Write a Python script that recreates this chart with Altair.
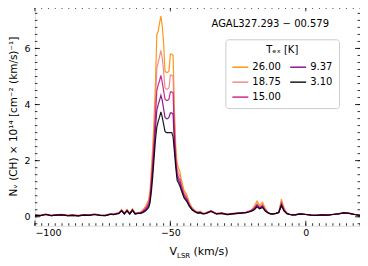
import altair as alt
import pandas as pd
import numpy as np

# ---------------- data ----------------
velocity = [
    -100, -98, -96, -94, -92, -90, -88, -86, -84, -82, -80, -78, -76, -74, -72,
    -71, -70, -69, -68, -67, -66, -65, -64, -63, -62,
    -61, -60, -59,
    -58, -57.5, -57, -56.5, -56, -55.5, -55, -54.5, -54, -53.5, -53, -52.5, -52,
    -51.5, -51, -50.5, -50, -49.5, -49, -48.5, -48, -47.5, -47, -46.5, -46,
    -45, -44, -43, -42, -41, -40, -39, -38,
    -37, -35, -33, -31, -29, -27, -25, -23,
    -22, -21, -20, -19, -18, -17, -16, -15, -14, -13, -12, -11, -10, -9, -8, -7, -6, -5,
    -4, -2, 0, 2, 4, 6, 8, 10, 12, 14, 16, 18, 20,
]

n_26_00 = [
    0.07, 0.05, 0.10, 0.05, 0.08, 0.09, 0.05, 0.07, 0.05, 0.08, 0.07, 0.10, 0.07, 0.06, 0.11,
    0.10, 0.12, 0.15, 0.26, 0.13, 0.26, 0.13, 0.28, 0.13, 0.15,
    0.17, 0.26, 0.40,
    0.62, 0.95, 1.70, 2.50, 3.50, 4.80, 6.50, 6.60, 6.90, 7.15, 6.80, 6.20, 5.20,
    5.15, 5.15, 5.20, 5.80, 5.80, 5.75, 3.80, 2.50, 1.90, 1.72, 1.62, 1.35,
    0.95, 0.80, 0.50, 0.33, 0.23, 0.17, 0.19, 0.13,
    0.14, 0.22, 0.12, 0.14, 0.10, 0.12, 0.14, 0.16,
    0.17, 0.20, 0.25, 0.38, 0.56, 0.40, 0.52, 0.30, 0.16, 0.11, 0.11, 0.13, 0.16, 0.63, 0.30, 0.13, 0.10, 0.08,
    0.08, 0.11, 0.09, 0.07, 0.06, 0.08, 0.07, 0.09, 0.11, 0.16, 0.13, 0.09, 0.06,
]

n_18_75 = [
    0.06, 0.05, 0.09, 0.05, 0.07, 0.08, 0.05, 0.06, 0.04, 0.07, 0.06, 0.09, 0.06, 0.05, 0.10,
    0.09, 0.11, 0.14, 0.24, 0.12, 0.24, 0.12, 0.26, 0.12, 0.14,
    0.15, 0.23, 0.34,
    0.53, 0.80, 1.45, 2.20, 3.00, 4.10, 5.30, 5.50, 5.70, 5.93, 5.65, 5.20, 4.60,
    4.55, 4.55, 4.60, 5.05, 5.05, 5.00, 3.35, 2.25, 1.70, 1.55, 1.45, 1.22,
    0.88, 0.72, 0.46, 0.30, 0.21, 0.16, 0.18, 0.12,
    0.13, 0.21, 0.11, 0.13, 0.09, 0.11, 0.13, 0.15,
    0.16, 0.19, 0.24, 0.33, 0.48, 0.35, 0.45, 0.27, 0.15, 0.10, 0.10, 0.12, 0.16, 0.55, 0.27, 0.12, 0.09, 0.07,
    0.07, 0.10, 0.08, 0.06, 0.05, 0.07, 0.06, 0.08, 0.10, 0.15, 0.12, 0.08, 0.05,
]

n_15_00 = [
    0.06, 0.04, 0.09, 0.04, 0.07, 0.08, 0.04, 0.06, 0.04, 0.07, 0.06, 0.09, 0.06, 0.05, 0.10,
    0.09, 0.11, 0.13, 0.23, 0.11, 0.23, 0.11, 0.25, 0.11, 0.13,
    0.14, 0.21, 0.31,
    0.47, 0.70, 1.30, 1.95, 2.70, 3.60, 4.50, 4.70, 4.85, 5.04, 4.80, 4.50, 4.20,
    4.15, 4.15, 4.20, 4.45, 4.45, 4.40, 2.95, 2.05, 1.55, 1.40, 1.32, 1.12,
    0.80, 0.66, 0.43, 0.28, 0.20, 0.15, 0.17, 0.11,
    0.12, 0.21, 0.11, 0.13, 0.09, 0.11, 0.13, 0.15,
    0.16, 0.19, 0.23, 0.30, 0.43, 0.32, 0.40, 0.24, 0.15, 0.10, 0.10, 0.12, 0.15, 0.48, 0.24, 0.12, 0.09, 0.07,
    0.07, 0.10, 0.08, 0.06, 0.05, 0.07, 0.06, 0.08, 0.10, 0.15, 0.12, 0.08, 0.05,
]

n_9_37 = [
    0.05, 0.04, 0.08, 0.04, 0.06, 0.07, 0.04, 0.05, 0.03, 0.06, 0.05, 0.08, 0.05, 0.04, 0.09,
    0.08, 0.10, 0.12, 0.22, 0.10, 0.22, 0.10, 0.24, 0.10, 0.12,
    0.13, 0.18, 0.26,
    0.40, 0.60, 1.10, 1.70, 2.40, 3.15, 3.80, 4.00, 4.15, 4.33, 4.15, 3.85, 3.55,
    3.50, 3.50, 3.55, 3.70, 3.70, 3.65, 2.60, 1.90, 1.42, 1.30, 1.20, 1.02,
    0.74, 0.60, 0.40, 0.26, 0.19, 0.14, 0.15, 0.11,
    0.12, 0.20, 0.10, 0.12, 0.08, 0.10, 0.12, 0.14,
    0.15, 0.18, 0.22, 0.28, 0.40, 0.30, 0.37, 0.22, 0.15, 0.10, 0.10, 0.12, 0.15, 0.38, 0.22, 0.12, 0.08, 0.07,
    0.07, 0.10, 0.08, 0.06, 0.05, 0.07, 0.06, 0.08, 0.10, 0.14, 0.12, 0.08, 0.05,
]

n_3_10 = [
    0.05, 0.04, 0.08, 0.04, 0.06, 0.07, 0.04, 0.05, 0.03, 0.06, 0.05, 0.08, 0.05, 0.04, 0.09,
    0.08, 0.10, 0.12, 0.21, 0.10, 0.21, 0.10, 0.23, 0.10, 0.12,
    0.12, 0.15, 0.22,
    0.33, 0.50, 0.90, 1.45, 2.10, 2.75, 3.20, 3.40, 3.55, 3.74, 3.55, 3.30, 3.05,
    3.00, 3.00, 3.00, 3.00, 3.00, 2.85, 2.30, 1.75, 1.30, 1.20, 1.10, 0.95,
    0.68, 0.55, 0.37, 0.25, 0.18, 0.13, 0.14, 0.10,
    0.11, 0.19, 0.10, 0.12, 0.08, 0.10, 0.12, 0.14,
    0.15, 0.17, 0.20, 0.25, 0.35, 0.28, 0.33, 0.20, 0.14, 0.10, 0.10, 0.12, 0.15, 0.42, 0.20, 0.11, 0.08, 0.07,
    0.07, 0.10, 0.08, 0.06, 0.05, 0.07, 0.06, 0.08, 0.10, 0.14, 0.12, 0.08, 0.05,
]

tex_labels = ["26.00", "18.75", "15.00", "9.37", "3.10"]
tex_colors = ["darkorange", "lightcoral", "mediumvioletred", "purple", "black"]
series = [n_26_00, n_18_75, n_15_00, n_9_37, n_3_10]

source_name = "AGAL327.293 \u2212 00.579"

x_major = [-100, -50, 0]
y_major = [0, 2, 4, 6]
x_minor = list(np.arange(-100, 20.1, 2.5))
y_minor = list(np.arange(-0.25, 7.51, 0.25))

# ---------------- layout ----------------
W, H = 326, 220
X_DOM = [-100, 20]
Y_DOM = [-0.32, 7.5]

rows = []
for order, (lab, vals) in enumerate(zip(tex_labels, series)):
    for v, n in zip(velocity, vals):
        rows.append({"v": v, "n": n, "tex": lab, "order": order})
df = pd.DataFrame(rows)

xs = alt.Scale(domain=X_DOM, nice=False, zero=False)
ys = alt.Scale(domain=Y_DOM, nice=False, zero=False)

lines = alt.Chart(df).mark_line(interpolate="linear", strokeWidth=1.2, clip=True, opacity=0.9).encode(
    x=alt.X("v:Q", scale=xs,
            axis=alt.Axis(values=x_major, title=None, ticks=False, domain=False, grid=False,
                          labelFontSize=9.5, labelPadding=2, labelColor="black",
                          labelExpr="replace(datum.label, '-', '\u2212')", labelFont="DejaVu Sans")),
    y=alt.Y("n:Q", scale=ys,
            axis=alt.Axis(values=y_major, title="N\u1d65 (CH)  \u00d7 10\u00b9\u2074 [cm\u207b\u00b2 (km/s)\u207b\u00b9]",
                          ticks=False, domain=False, grid=False, labelFontSize=9.5, labelPadding=5,
                          labelColor="black", labelFont="DejaVu Sans",
                          titleFont="DejaVu Sans", titleFontSize=10.5, titleFontWeight="normal",
                          titleColor="black", titlePadding=5)),
    color=alt.Color("tex:N", scale=alt.Scale(domain=tex_labels, range=tex_colors),
                    legend=alt.Legend(title="T\u2091\u2093 [K]", orient="none", legendX=191, legendY=33,
                                      columns=2, symbolType="stroke", symbolSize=256,
                                      symbolStrokeWidth=1.5, labelFontSize=10, titleFontSize=10,
                                      titleFontWeight="normal", titleAnchor="middle",
                                      labelFont="DejaVu Sans", titleFont="DejaVu Sans",
                                      fillColor="white", strokeColor="#cccccc", cornerRadius=3,
                                      padding=6, rowPadding=1, columnPadding=6, labelOffset=3,
                                      titlePadding=3)),
    detail="order:O",
    order=alt.Order("order:Q"),
)

tick_x_maj = pd.DataFrame({"v": x_major})
tick_x_min = pd.DataFrame({"v": x_minor})
tick_y_maj = pd.DataFrame({"n": y_major})
tick_y_min = pd.DataFrame({"n": y_minor})

def xt(df_, y0, y1):
    return alt.Chart(df_).mark_rule(color="black", strokeWidth=0.8).encode(
        x=alt.X("v:Q", scale=xs), y=alt.value(y0), y2=alt.value(y1))

def yt(df_, x0, x1):
    return alt.Chart(df_).transform_filter(
        f"datum.n >= {Y_DOM[0]} && datum.n <= {Y_DOM[1]}"
    ).mark_rule(color="black", strokeWidth=0.8).encode(
        y=alt.Y("n:Q", scale=ys), x=alt.value(x0), x2=alt.value(x1))

ticks = [
    xt(tick_x_maj, H, H - 5), xt(tick_x_maj, 0, 5),
    xt(tick_x_min, H, H - 2.5), xt(tick_x_min, 0, 2.5),
    yt(tick_y_maj, 0, 5), yt(tick_y_maj, W, W - 5),
    yt(tick_y_min, 0, 2.5), yt(tick_y_min, W, W - 2.5),
]

label_df = pd.DataFrame({"t": [source_name]})
src = alt.Chart(label_df).mark_text(fontSize=10, font="DejaVu Sans", align="center",
                                    baseline="middle", color="black").encode(
    x=alt.value(236), y=alt.value(18), text="t:N")

xt_v = alt.Chart(pd.DataFrame({"t": ["V"]})).mark_text(
    fontSize=11, font="DejaVu Sans", align="left", baseline="alphabetic", color="black").encode(
    x=alt.value(135), y=alt.value(249), text="t:N")
xt_lsr = alt.Chart(pd.DataFrame({"t": ["LSR"]})).mark_text(
    fontSize=7, font="DejaVu Sans", align="left", baseline="alphabetic", color="black").encode(
    x=alt.value(142.5), y=alt.value(252), text="t:N")
xt_unit = alt.Chart(pd.DataFrame({"t": ["(km/s)"]})).mark_text(
    fontSize=11, font="DejaVu Sans", align="left", baseline="alphabetic", color="black").encode(
    x=alt.value(159), y=alt.value(249), text="t:N")

chart = alt.layer(lines, *ticks, src, xt_v, xt_lsr, xt_unit).properties(
    width=W, height=H,
    autosize=alt.AutoSizeParams(type="none"),
    padding={"left": 27, "top": -2, "right": 0, "bottom": 40},
).configure_view(stroke="black", strokeWidth=1).configure(background="white")

chart.save("out.html", embed_options={"renderer": "svg", "actions": False})
